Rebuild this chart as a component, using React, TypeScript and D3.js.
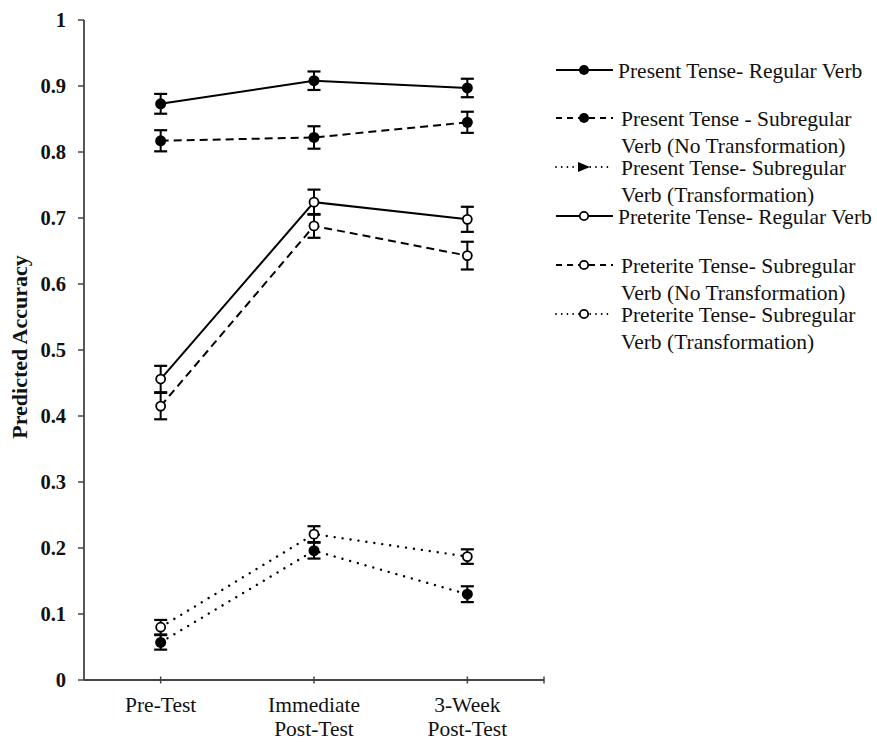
import React from "react";
import * as d3 from "d3";

const categories = ["Pre-Test", "Immediate Post-Test", "3-Week Post-Test"];
const categoryLines = [["Pre-Test"], ["Immediate", "Post-Test"], ["3-Week", "Post-Test"]];
const yTicks = [0, 0.1, 0.2, 0.3, 0.4, 0.5, 0.6, 0.7, 0.8, 0.9, 1];

const seriesNames = [
  ["Present Tense- Regular Verb"],
  ["Present Tense - Subregular", "Verb (No Transformation)"],
  ["Present Tense- Subregular", "Verb (Transformation)"],
  ["Preterite Tense- Regular Verb"],
  ["Preterite Tense- Subregular", "Verb (No Transformation)"],
  ["Preterite Tense- Subregular", "Verb (Transformation)"],
];
const seriesLine = ["solid", "dashed", "dotted", "solid", "dashed", "dotted"];
const seriesFilled = [true, true, true, false, false, false];

const presentRegular = [0.873, 0.908, 0.897];
const presentRegularErr = [0.015, 0.014, 0.014];
const presentSubNoT = [0.817, 0.822, 0.845];
const presentSubNoTErr = [0.016, 0.017, 0.016];
const presentSubT = [0.057, 0.196, 0.13];
const presentSubTErr = [0.011, 0.012, 0.012];
const preteriteRegular = [0.456, 0.724, 0.698];
const preteriteRegularErr = [0.02, 0.019, 0.019];
const preteriteSubNoT = [0.415, 0.688, 0.643];
const preteriteSubNoTErr = [0.02, 0.018, 0.021];
const preteriteSubT = [0.08, 0.221, 0.187];
const preteriteSubTErr = [0.011, 0.012, 0.011];

const seriesValues = [presentRegular, presentSubNoT, presentSubT, preteriteRegular, preteriteSubNoT, preteriteSubT];
const seriesErrors = [presentRegularErr, presentSubNoTErr, presentSubTErr, preteriteRegularErr, preteriteSubNoTErr, preteriteSubTErr];

const legendY = [70, 118, 167, 216, 265, 314];

const W = 877;
const H = 742;
const FONT = "'Liberation Serif', 'Times New Roman', serif";

function dashFor(kind: string, legend = false) {
  if (kind === "dashed") return legend ? "6,5" : "8,5";
  if (kind === "dotted") return legend ? "0.01,5.7" : "0.01,8";
  return undefined;
}

export default function App() {
  const x = d3.scalePoint<string>().domain(categories).range([84, 544]).padding(0.5);
  const y = d3.scaleLinear().domain([0, 1]).range([680, 20]);
  const line = d3
    .line<number>()
    .x((_, i) => x(categories[i]) as number)
    .y((d) => y(d));

  const axisColor = "#444";

  return (
    <svg width={W} height={H} style={{ position: "absolute", left: 0, top: 0, background: "#fff" }}>
      <rect width={W} height={H} fill="#fff" />
      {/* Y axis */}
      <line x1={84} x2={84} y1={y(1)} y2={y(0)} stroke={axisColor} strokeWidth={1.8} />
      {yTicks.map((t) => (
        <g key={t}>
          <line x1={78} x2={84} y1={y(t)} y2={y(t)} stroke={axisColor} strokeWidth={1.5} />
          <text
            x={66}
            y={y(t)}
            dy="0.35em"
            textAnchor="end"
            fontFamily={FONT}
            fontSize={20.5}
            fontWeight="bold"
            fill="#111"
          >
            {String(t)}
          </text>
        </g>
      ))}
      <text
        transform={`translate(27,${347}) rotate(-90)`}
        textAnchor="middle"
        fontFamily={FONT}
        fontSize={22}
        fontWeight="bold"
        fill="#111"
      >
        Predicted Accuracy
      </text>
      {/* X axis */}
      <line x1={84} x2={544} y1={y(0)} y2={y(0)} stroke={axisColor} strokeWidth={1.8} />
      {categories.map((c) => (
        <line key={c} x1={x(c)} x2={x(c)} y1={y(0) - 3.5} y2={y(0) + 3.5} stroke={axisColor} strokeWidth={1.5} />
      ))}
      <line x1={544} x2={544} y1={y(0) - 3.5} y2={y(0) + 3.5} stroke={axisColor} strokeWidth={1.5} />
      {categories.map((c, i) => (
        <text key={c} textAnchor="middle" fontFamily={FONT} fontSize={21.5} fill="#111">
          {categoryLines[i].map((l, j) => (
            <tspan key={j} x={x(c)} y={712 + j * 24}>
              {l}
            </tspan>
          ))}
        </text>
      ))}
      {/* Series */}
      {seriesValues.map((vals, s) => (
        <g key={s}>
          <path
            d={line(vals) || ""}
            fill="none"
            stroke="#000"
            strokeWidth={seriesLine[s] === "dotted" ? 2.4 : 2}
            strokeDasharray={dashFor(seriesLine[s])}
            strokeLinecap={seriesLine[s] === "dotted" ? "round" : "butt"}
          />
          {vals.map((v, i) => {
            const cx = x(categories[i]) as number;
            const e = seriesErrors[s][i];
            return (
              <g key={i}>
                <line x1={cx} x2={cx} y1={y(v + e)} y2={y(v - e)} stroke="#000" strokeWidth={2} />
                <line x1={cx - 6.5} x2={cx + 6.5} y1={y(v + e)} y2={y(v + e)} stroke="#000" strokeWidth={2.2} />
                <line x1={cx - 6.5} x2={cx + 6.5} y1={y(v - e)} y2={y(v - e)} stroke="#000" strokeWidth={2.2} />
                {seriesFilled[s] ? (
                  <circle cx={cx} cy={y(v)} r={5.5} fill="#000" />
                ) : (
                  <circle cx={cx} cy={y(v)} r={4.5} fill="#fff" stroke="#000" strokeWidth={1.8} />
                )}
              </g>
            );
          })}
        </g>
      ))}
      {/* Legend */}
      {seriesNames.map((names, s) => {
        const ly = legendY[s];
        return (
          <g key={s}>
            <line
              x1={556}
              x2={613}
              y1={ly}
              y2={ly}
              stroke="#000"
              strokeWidth={seriesLine[s] === "dotted" ? 1.8 : 2}
              strokeDasharray={dashFor(seriesLine[s], true)}
              strokeLinecap={seriesLine[s] === "dotted" ? "round" : "butt"}
            />
            {s === 2 ? (
              <path d={`M${578},${ly - 5} L${590},${ly} L${578},${ly + 5} Z`} fill="#000" />
            ) : seriesFilled[s] ? (
              <circle cx={584} cy={ly} r={5} fill="#000" />
            ) : (
              <circle cx={584} cy={ly} r={4.2} fill="#fff" stroke="#000" strokeWidth={1.8} />
            )}
            <text fontFamily={FONT} fontSize={21.5} fill="#111">
              {names.map((n, j) => (
                <tspan key={j} x={j === 0 && (s === 0 || s === 3) ? 618 : 621} y={ly + 8 + j * 27}>
                  {n}
                </tspan>
              ))}
            </text>
          </g>
        );
      })}
    </svg>
  );
}
